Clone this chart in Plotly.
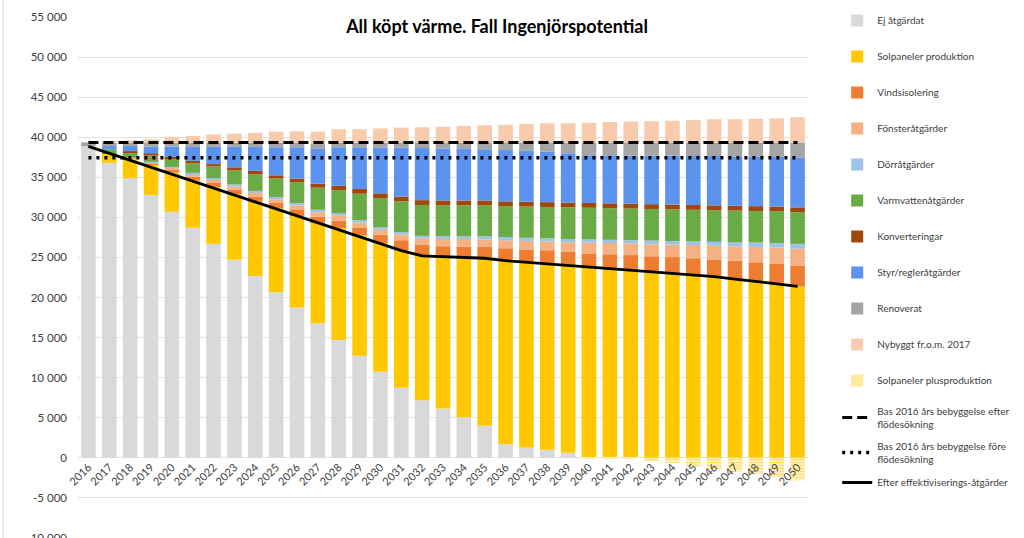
import plotly.graph_objects as go

years = [str(y) for y in range(2016, 2051)]

ej_atgardat = [38900, 36800, 34900, 32800, 30700, 28700, 26700, 24700, 22700, 20650,
               18750, 16800, 14700, 12750, 10750, 8750, 7200, 6150, 5050, 4000,
               1700, 1300, 1000, 650, 0, 0, 0, 0, 0, 0, 0, 0, 0, 0, 0]
solpaneler_prod = [0, 1100, 2450, 3800, 4900, 5950, 7050, 8150, 9250, 10450,
                   11400, 12450, 13950, 15000, 16050, 17100, 18100, 19050, 20050, 21000,
                   23000, 23150, 23250, 23350, 23800, 23600, 23400, 23200, 23000, 22800,
                   22600, 22300, 22000, 21700, 21400]
vindsisolering = [0, 0, 50, 150, 300, 400, 550, 600, 650, 700,
                  850, 850, 950, 1000, 1050, 1300, 1250, 1200, 1250, 1300,
                  1450, 1550, 1650, 1700, 1700, 1800, 1900, 1950, 2050, 2100,
                  2150, 2300, 2400, 2550, 2600]
fonster = [0, 0, 50, 150, 300, 350, 400, 400, 450, 450,
           500, 550, 600, 600, 600, 700, 850, 900, 950, 950,
           1000, 1050, 1100, 1200, 1350, 1400, 1450, 1500, 1550, 1650,
           1700, 1800, 1900, 2000, 2100]
dorr = [0, 0, 0, 50, 100, 150, 200, 250, 250, 300,
        300, 300, 300, 300, 300, 300, 300, 350, 350, 400,
        400, 400, 400, 400, 400, 400, 400, 450, 450, 450,
        500, 500, 550, 550, 600]
varmvatten = [0, 600, 700, 900, 1050, 1200, 1450, 1750, 2100, 2300,
              2600, 2750, 2900, 3300, 3650, 3850, 3850, 3850, 3850, 3850,
              3850, 3900, 3900, 3950, 3950, 3950, 3950, 3950, 3950, 3950,
              3950, 3950, 3950, 3950, 3950]
konverteringar = [0, 0, 100, 100, 200, 300, 300, 400, 400, 400,
                  450, 500, 550, 600, 600, 600, 600, 600, 600, 600,
                  600, 600, 600, 600, 600, 600, 600, 600, 600, 600,
                  600, 600, 600, 600, 600]
styr_regler = [0, 400, 650, 900, 1300, 1750, 2150, 2550, 3000, 3500,
               3900, 4350, 4800, 5200, 5700, 6100, 6500, 6500, 6450, 6400,
               6400, 6350, 6300, 6150, 5950, 6000, 6000, 6050, 6100, 6100,
               6150, 6150, 6200, 6200, 6250]
renoverat = [450, 450, 450, 500, 500, 550, 550, 550, 550, 600,
             600, 600, 600, 600, 650, 650, 700, 750, 800, 850,
             950, 1050, 1150, 1350, 1600, 1600, 1650, 1650, 1650, 1700,
             1700, 1750, 1750, 1800, 1850]
nybyggt = [0, 100, 250, 400, 700, 800, 1000, 1100, 1200, 1350,
           1400, 1550, 1650, 1650, 1750, 1850, 1900, 1950, 2050, 2150,
           2200, 2300, 2400, 2400, 2450, 2550, 2600, 2650, 2700, 2800,
           2900, 2900, 2950, 3000, 3150]
solpaneler_plus = [0, 0, 0, 0, 0, 0, 0, 0, 0, 0,
                   0, 0, 0, 0, 0, 0, 0, 0, 0, 0,
                   0, 0, 0, 0, -50, -80, -120, -400, -650, -1050,
                   -1400, -1700, -2000, -2400, -2800]
bas_efter = [39350] * 35
bas_fore = [37450] * 35
efter_effektivisering = [38850, 37980, 37120, 36250, 35380, 34520, 33650, 32780, 31920, 31050,
                         30180, 29320, 28450, 27580, 26720, 25850, 25200, 25100, 25000, 24900,
                         24600, 24400, 24200, 23950, 23800, 23600, 23400, 23200, 23000, 22800,
                         22600, 22300, 22000, 21700, 21400]

y_tickvals = list(range(-10000, 55001, 5000))
y_ticktext = ["-10 000", "-5 000", "0", "5 000", "10 000", "15 000", "20 000", "25 000",
              "30 000", "35 000", "40 000", "45 000", "50 000", "55 000"]

bar_series = [
    ("Ej åtgärdat", ej_atgardat, "#D9D9D9"),
    ("Solpaneler produktion", solpaneler_prod, "#FFC800"),
    ("Vindsisolering", vindsisolering, "#ED7D31"),
    ("Fönsteråtgärder", fonster, "#F4B183"),
    ("Dörråtgärder", dorr, "#9DC3E6"),
    ("Varmvattenåtgärder", varmvatten, "#6AAB45"),
    ("Konverteringar", konverteringar, "#9E480E"),
    ("Styr/regleråtgärder", styr_regler, "#5B93EE"),
    ("Renoverat", renoverat, "#A5A5A5"),
    ("Nybyggt fr.o.m. 2017", nybyggt, "#F8CBAD"),
]

font_family = "Lato, 'Open Sans', sans-serif"
text_color = "#404040"

fig = go.Figure()
for i, (name, vals, color) in enumerate(bar_series):
    fig.add_trace(go.Bar(x=years, y=vals, name=name, marker=dict(color=color, line=dict(width=0)),
                         legendgroup=f"g{i}"))

fig.add_trace(go.Bar(
    x=years, y=solpaneler_plus, name="Solpaneler plusproduktion", legendgroup="g10",
    marker=dict(color="#FFF6D5", line=dict(width=0),
                pattern=dict(shape="-", fgcolor="#FFC800", bgcolor="#FFF6D5", size=3, solidity=0.5)),
))

fig.add_trace(go.Scatter(x=years, y=bas_efter, mode="lines", legendgroup="g11", legend="legend2",
                         name="Bas 2016 års bebyggelse efter<br>flödesökning",
                         line=dict(color="black", width=3, dash="10px,5px")))
fig.add_trace(go.Scatter(x=years, y=bas_fore, mode="lines", legendgroup="g12", legend="legend2",
                         name="Bas 2016 års bebyggelse före<br>flödesökning",
                         line=dict(color="black", width=3.5, dash="3px,5px")))
fig.add_trace(go.Scatter(x=years, y=efter_effektivisering, mode="lines", legendgroup="g13",
                         legend="legend2", name="Efter effektiviserings-åtgärder",
                         line=dict(color="black", width=2.8)))

y_range = [-10000, 55000]
xaxis_pos = (0 - y_range[0]) / (y_range[1] - y_range[0])

legend_font = dict(size=10, color=text_color, family=font_family)

fig.update_layout(
    width=1024, height=546,
    margin=dict(l=78, r=216, t=17, b=8, autoexpand=False),
    paper_bgcolor="white", plot_bgcolor="white",
    barmode="relative", bargap=0.3,
    font=dict(family=font_family, color=text_color),
    title=dict(text="<b>All köpt värme. Fall Ingenjörspotential</b>",
               font=dict(size=18, color="#000000", family=font_family),
               x=0.574, xref="paper", xanchor="center",
               y=1 - 27 / 546, yref="container", yanchor="middle"),
    xaxis=dict(type="category", anchor="free", position=xaxis_pos,
               tickangle=-45, tickfont=dict(size=11, color=text_color),
               showgrid=False, showline=False, ticks="", ticklen=0),
    yaxis=dict(range=y_range, tickvals=y_tickvals, ticktext=y_ticktext,
               tickfont=dict(size=11.5, color=text_color),
               showgrid=True, gridcolor="#E3E3E3", gridwidth=1,
               zeroline=False, showline=False, ticks="", ticklabelstandoff=10),
    legend=dict(x=1.04, y=1.021, xanchor="left", yanchor="top",
                traceorder="grouped", tracegroupgap=17, maxheight=530,
                font=legend_font, bgcolor="rgba(0,0,0,0)"),
    legend2=dict(x=1.04, y=(538 - 398) / 521, xanchor="left", yanchor="top",
                 traceorder="grouped", tracegroupgap=6,
                 font=legend_font, bgcolor="rgba(0,0,0,0)"),
    showlegend=True,
    shapes=[dict(type="line", xref="paper", yref="paper", x0=-0.1027, x1=-0.1027, y0=-0.02, y1=1.05,
                 line=dict(color="#D9D9D9", width=1))],
)

fig.write_html("out.html", config={"displayModeBar": False},
               post_script="document.body.style.margin='0px';document.body.style.overflow='hidden';")
